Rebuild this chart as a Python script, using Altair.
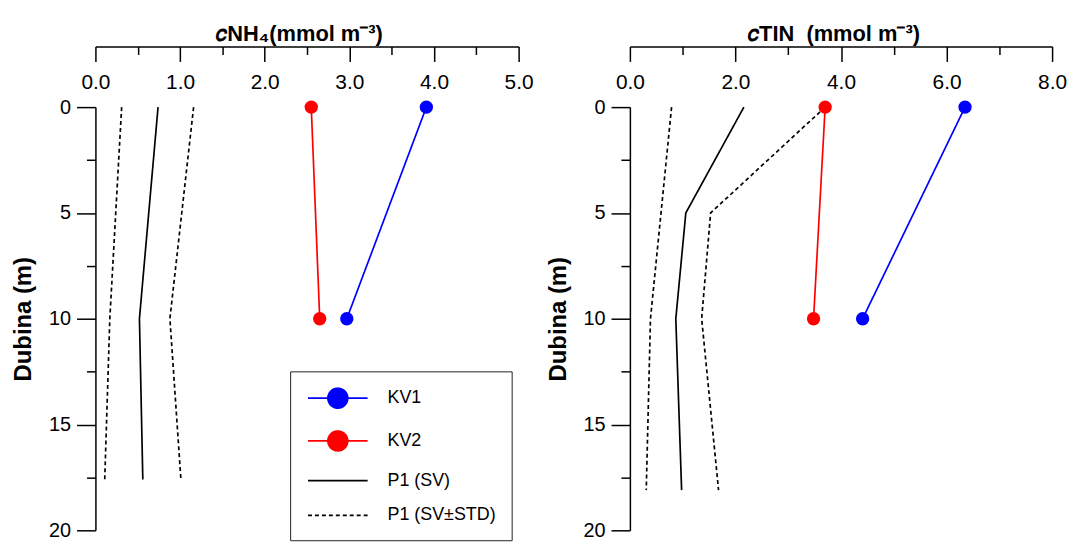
import altair as alt
import pandas as pd

# ---------------- data ----------------
series_names = ["KV1", "KV2", "P1 (SV)", "P1 (SV±STD)"]
series_colors = ["#0000ff", "#ff0000", "#000000", "#000000"]

depth_kv = [0, 10]

# cNH4 panel
nh4_kv1 = [3.91, 2.97]
nh4_kv2 = [2.55, 2.65]
depth_p1_nh4 = [0, 10, 17.6]
nh4_p1 = [0.74, 0.52, 0.56]
nh4_p1_lo = [0.31, 0.17, 0.11]
nh4_p1_hi = [1.16, 0.88, 1.01]

# cTIN panel
tin_kv1 = [6.35, 4.41]
tin_kv2 = [3.70, 3.48]
depth_p1_tin = [0, 5, 10, 18.1]
tin_p1 = [2.16, 1.06, 0.87, 0.98]
tin_p1_lo = [0.79, 0.59, 0.39, 0.31]
tin_p1_hi = [3.70, 1.53, 1.36, 1.68]

nh4_ticks = [0, 0.5, 1, 1.5, 2, 2.5, 3, 3.5, 4, 4.5, 5]
tin_ticks = [0, 1, 2, 3, 4, 5, 6, 7, 8]
depth_ticks = [0, 2.5, 5, 7.5, 10, 12.5, 15, 17.5, 20]

FONT = "Liberation Sans"


def build_df(kv1, kv2, p1_depth, p1, lo, hi):
    rows = []
    for d, v in zip(depth_kv, kv1):
        rows.append(dict(series="KV1", part="KV1", depth=d, value=v))
    for d, v in zip(depth_kv, kv2):
        rows.append(dict(series="KV2", part="KV2", depth=d, value=v))
    for d, v in zip(p1_depth, p1):
        rows.append(dict(series="P1 (SV)", part="mean", depth=d, value=v))
    for d, v in zip(p1_depth, lo):
        rows.append(dict(series="P1 (SV±STD)", part="lo", depth=d, value=v))
    for d, v in zip(p1_depth, hi):
        rows.append(dict(series="P1 (SV±STD)", part="hi", depth=d, value=v))
    return pd.DataFrame(rows)


circ_path = "M-3,0L3,0M-1,0A1,1,0,1,1,1,0A1,1,0,1,1,-1,0Z"
line_path = "M-3,0L3,0"

color_scale = alt.Scale(domain=series_names, range=series_colors)
dash_scale = alt.Scale(domain=series_names, range=[[1, 0], [1, 0], [1, 0], [4, 3]])
shape_scale = alt.Scale(domain=series_names, range=[circ_path, circ_path, line_path, line_path])

W, H = 426, 426
AXIS_GAP = 61


def panel(df, xmax, xticks, major_step, title, width, show_legend):
    if show_legend:
        leg = alt.Legend(
            title=None, orient="none", legendX=196, legendY=266,
            strokeColor="#222222", fillColor="white", padding=16,
            rowPadding=15, symbolSize=400, symbolStrokeWidth=1.7,
            labelFontSize=18, labelFont=FONT, labelColor="black",
            labelOffset=39, symbolOffset=21,
        )
    else:
        leg = None

    xaxis = alt.Axis(
        orient="bottom", offset=-(H + AXIS_GAP), values=xticks,
        labelExpr=f"datum.value % {major_step} === 0 ? format(datum.value, '.1f') : ''",
        tickSize={"condition": {"test": f"datum.value % {major_step} !== 0", "value": 8}, "value": 15},
        labelFontSize=21, labelFont=FONT, labelColor="black", labelPadding=10,
        labelFlush=False, labelOverlap=False,
        domainColor="black", tickColor="black", domainWidth=1.5, tickWidth=1.5,
        grid=False, title=title, titleFont=FONT, titleFontSize=22,
        titleFontWeight="bold", titleColor="black",
        titleX=205, titleY=-6, titleAlign="center", titleBaseline="alphabetic",
    )
    yaxis = alt.Axis(
        orient="left", values=depth_ticks,
        labelExpr="datum.value % 5 === 0 ? format(datum.value, 'd') : ''",
        tickSize={"condition": {"test": "datum.value % 5 !== 0", "value": 9}, "value": 19},
        labelFontSize=20, labelFont=FONT, labelColor="black", labelPadding=6,
        labelOverlap=False, labelFlush=False,
        domainColor="black", tickColor="black", domainWidth=1.5, tickWidth=1.5,
        grid=False, title="Dubina (m)", titleFont=FONT, titleFontSize=24,
        titleFontWeight="bold", titleColor="black", titlePadding=13,
    )
    xs = alt.Scale(domain=[0, xmax], nice=False, zero=False)
    ys = alt.Scale(domain=[0, 20], reverse=True, nice=False)

    x = alt.X("value:Q", scale=xs, axis=xaxis)
    y = alt.Y("depth:Q", scale=ys, axis=yaxis)

    lines = alt.Chart(df).mark_line(strokeWidth=1.7).encode(
        x=x, y=y,
        color=alt.Color("series:N", scale=color_scale, legend=leg),
        strokeDash=alt.StrokeDash("series:N", scale=dash_scale, legend=leg),
        detail="part:N",
        order="depth:Q",
    )
    pts = alt.Chart(df).transform_filter(
        "datum.series === 'KV1' || datum.series === 'KV2'"
    ).mark_point(filled=True, size=180, opacity=1).encode(
        x=x, y=y,
        color=alt.Color("series:N", scale=color_scale, legend=leg),
    )
    legend_layer = alt.Chart(df).transform_filter("false").mark_point(
        filled=True, opacity=1, strokeWidth=1.7
    ).encode(
        x=x, y=y,
        color=alt.Color("series:N", scale=color_scale, legend=leg),
        shape=alt.Shape("series:N", scale=shape_scale, legend=leg),
    )
    return alt.layer(lines, pts, legend_layer).properties(width=width, height=H)


df_nh4 = build_df(nh4_kv1, nh4_kv2, depth_p1_nh4, nh4_p1, nh4_p1_lo, nh4_p1_hi)
df_tin = build_df(tin_kv1, tin_kv2, depth_p1_tin, tin_p1, tin_p1_lo, tin_p1_hi)

left = panel(df_nh4, 5, nh4_ticks, 1, "𝑐NH₄(mmol m⁻³)", 426, True)
right = panel(df_tin, 8, tin_ticks, 2, "𝑐TIN\u00a0 (mmol m⁻³)", 425, False)

chart = alt.hconcat(left, right, spacing=12).resolve_scale(
    color="independent", shape="independent", strokeDash="independent"
).properties(
    padding={"left": 3, "top": 13, "right": 0, "bottom": 0}
).configure(background="white").configure_view(stroke=None)

chart.save("out.html", embed_options={"renderer": "svg", "actions": False})
